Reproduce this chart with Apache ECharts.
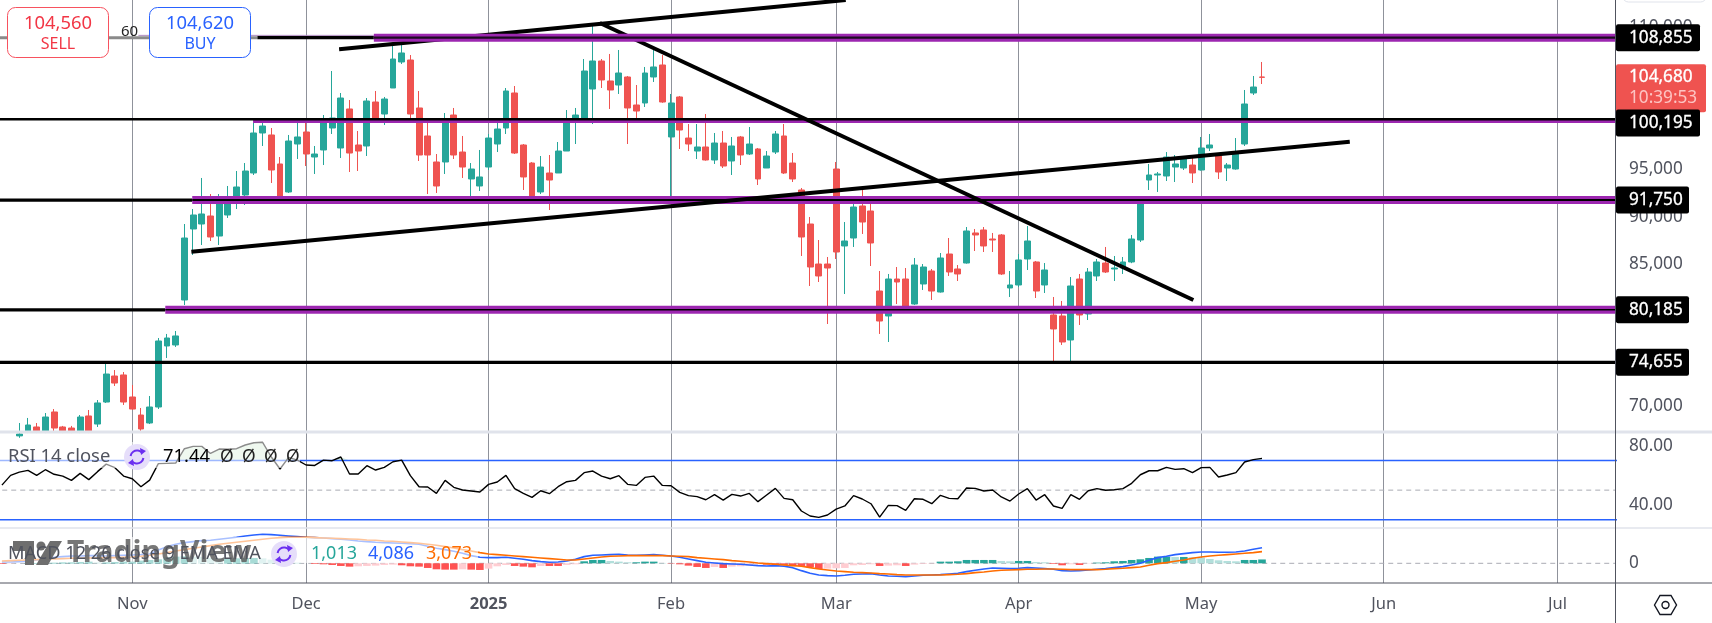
<!DOCTYPE html>
<html>
<head>
<meta charset="utf-8">
<title>Chart</title>
<script src="https://cdn.jsdelivr.net/npm/echarts@6/dist/echarts.min.js"></script>
<style>
  html, body { margin: 0; padding: 0; background: #fff; }
  #chart { width: 1712px; height: 623px; }
</style>
</head>
<body>
<div id="chart"></div>
<script>
const FONT = '"Noto Sans", sans-serif';
const GREEN = '#26a69a', RED = '#ef5350', PURPLE = '#9c27b0', BLUE = '#2962ff', ORANGE = '#ff6d00', GREY = '#50535e';

// month ticks, in bar numbers
const tickBars = [15, 35, 56, 77, 96, 117, 138, 159, 179];
const tickLabels = ['Nov', 'Dec', '2025', 'Feb', 'Mar', 'Apr', 'May', 'Jun', 'Jul'];

// open, close, low, high per bar. first two sit below the visible range
const candleValues = [
  [66200,66500,66000,66700],[66500,66300,66100,66800],
  [66900,67100,66700,68260],[67420,68050,67200,68790],[67840,67420,67200,68260],[67420,68890,67200,69310],
  [69420,67730,67420,69730],[67840,67420,67200,67950],[67730,67420,67200,67950],[67420,68890,67200,69100],
  [69000,67420,67200,69630],[68150,70370,67840,70680],[70470,73420,70370,74580],[73210,72470,72160,73840],
  [73320,70470,70160,73630],[71000,69730,69630,72260],[69100,67630,67420,69840],[68260,69945,68150,71105],
  [69945,76900,69735,77215],[76375,77215,75110,77640],[76480,77430,76270,77955],[81220,87750,80690,89225],
  [88700,90175,85960,90805],[89225,90280,87015,94075],[90070,87855,87435,92385],[87960,91545,87015,92385],
  [90175,91545,89860,93230],[91440,93125,90805,94810],[92280,94810,91230,95650],[94600,98815,94390,99870],
  [98815,99550,97445,99870],[98605,94915,93545,99340],[95550,91755,91545,96285],[92600,97970,92495,98605],
  [97655,98395,96075,99870],[98920,96600,95335,100080],[96285,96600,94495,97445],[97025,100080,95440,100710],
  [99340,100395,98710,105345],[97235,102500,96180,103030],[101345,96705,94705,102290],[97550,96915,94810,99025],
  [97445,102185,96390,102500],[102080,100290,100290,103240],[100815,102395,99660,102610],[103555,106610,103555,107980],
  [106295,107245,106085,108295],[106505,100815,100290,107030],[101450,96495,95865,103240],[98500,96495,92385,100185],
  [95760,93230,92495,96600],[95760,100080,94495,100920],[100710,96495,96075,101450],[96810,95230,94075,98500],
  [93970,95020,92175,95650],[93230,94180,92705,97025],[95230,98285,94915,98710],[97655,99235,96810,99870],
  [99340,103240,98710,103555],[103030,96705,96600,103765],[97550,94180,92810,97655],[95650,92070,91900,95750],
  [92600,95230,92385,96390],[94600,93860,90700,96495],[94600,96915,94600,97865],[96915,100080,96915,101235],
  [100290,100710,97655,101450],[100290,105345,100290,106610],[103450,106400,99760,110195],[106400,104400,103555,106610],
  [104295,103345,101345,107140],[103870,105135,102925,107560],[104715,101450,97655,104820],[101765,101130,100395,103870],
  [101975,105135,101555,105770],[104715,105770,104190,107560],[105980,102080,102000,107030],[98395,101975,92070,102925],
  [102610,99130,97130,102715],[98285,97655,96915,99760],[96915,97340,96075,99760],[97340,95970,95900,100815],
  [95970,97760,95550,98815],[97760,95335,95125,99025],[95865,97445,94390,98395],[98395,96495,95440,98500],
  [96600,97655,96495,99445],[97130,93970,93335,97235],[95125,96390,95125,96915],[96810,98710,96600,99025],
  [98500,94600,94500,99760],[95650,93970,93650,96705],[92810,87855,85855,93020],[89225,84695,82695,89965],
  [85010,83750,83115,87540],[85010,84590,78690,85750],[95020,86275,85540,95760],[86910,87435,81850,89435],
  [87750,91015,86805,91335],[91125,89435,88175,93125],[90595,87225,84800,91335],[82165,79005,77640,84275],
  [79535,83430,76795,83960],[83430,83115,80795,84695],[83430,80480,80300,84590],[80795,84905,80700,85645],
  [82905,84695,82275,85010],[84275,82165,81220,84485],[82060,85645,82000,86170],[86065,84170,83750,87750],
  [84485,83960,83220,84905],[85115,88490,85050,88910],[88280,88070,86380,88700],[88595,86910,86275,88910],
  [87645,87540,86275,88280],[88070,83960,83855,88170],[82485,82800,81535,84275],[82800,85435,82590,86065],
  [85540,87435,84380,89015],[85225,82165,81430,85330],[82800,84380,81955,85115],[79640,78165,74790,81535],
  [79535,76795,76480,81115],[77005,82695,74790,83640],[83430,79640,78585,83960],[79745,84170,79110,84590],
  [83750,85225,83220,85540],[85115,84170,84065,86805],[84485,84590,83220,85855],[84590,85225,83960,85750],
  [85225,87645,85100,88070],[87540,91335,87330,91545],[93860,94390,92810,95550],[94390,94495,92600,94705],
  [94285,96285,93755,96810],[95230,95550,93650,96495],[95125,96180,94915,96280],[95440,94600,93545,96180],
  [94915,97235,94850,98395],[97235,97550,96915,98710],[96390,94705,93970,96450],[95125,95440,93755,95650],
  [95020,96600,94950,98285],[97655,101870,97445,103345],[103030,103660,102820,104820],[104715,104680,103975,106295]
];

const rsiValues = [
  53.4,60.0,62.2,63.4,60.0,63.8,60.7,59.5,56.6,61.3,57.1,62.5,67.6,65.2,59.5,57.7,52.3,56.8,67.9,68.1,
  68.3,78.0,79.6,79.6,74.8,77.8,77.6,78.0,80.5,82.0,82.3,72.4,64.3,72.1,70.3,67.0,66.7,70.3,69.9,72.4,
  60.9,60.9,66.5,63.6,65.4,69.2,70.3,59.8,52.3,52.1,47.8,56.6,51.9,50.1,49.4,48.7,53.9,55.5,60.0,51.0,
  47.8,45.1,49.6,47.6,52.3,55.7,
  56.6,61.8,62.9,59.5,57.7,59.8,53.9,53.2,58.6,59.5,53.2,53.0,48.5,46.3,45.6,43.5,46.9,43.3,47.1,46.0,
  47.8,42.2,46.7,51.2,44.4,43.5,35.9,32.5,31.6,33.2,37.2,39.3,46.3,44.0,40.8,31.8,39.7,39.5,36.3,44.2,
  43.8,40.8,46.5,44.4,44.2,51.4,51.2,49.4,50.1,45.4,42.6,47.4,51.0,43.3,46.9,39.3,37.7,46.9,43.8,49.6,
  51.0,49.9,50.3,51.0,54.6,60.4,
  63.1,63.1,65.4,64.0,64.5,61.8,65.2,65.4,58.9,60.2,61.8,69.0,70.6,71.44
];

const macdValues = [
  352,352,440,528,880,1232,1584,1760,1936,1936,2024,2024,1936,2024,2112,2200,2288,2464,3520,4400,
  5016,5456,5720,5984,6072,6336,6600,6864,7216,7480,7656,7568,7392,7216,7040,6864,6776,6688,6512,6336,
  6160,5896,5720,5544,5456,5368,5280,5192,5016,4488,3960,3608,3168,2640,2024,1584,1496,1496,1584,1320,
  1056,704,440,264,352,616,
  1056,1760,2112,2200,2288,2376,2200,2112,2200,2288,2112,1936,1584,1144,704,264,88,-88,-176,-264,
  -440,-616,-704,-616,-792,-1144,-1936,-2640,-3080,-3256,-3344,-3168,-2904,-2816,-2728,-3080,-3344,-3432,-3520,-3344,
  -3168,-3080,-2992,-2816,-2640,-2200,-1848,-1496,-1232,-1320,-1408,-1320,-1144,-1232,-1408,-1584,-1936,-2024,-1936,-1760,
  -1584,-1408,-1144,-880,-440,0,
  792,1496,1848,2288,2552,2816,2992,2992,2904,2904,2992,3256,3696,4086
];

const signalValues = [
  616,704,792,880,968,1056,1144,1232,1320,1320,1408,1408,1496,1496,1584,1672,1848,2112,2464,2816,
  3256,3608,3960,4312,4664,5016,5280,5544,5808,6072,6336,6600,6776,6864,6864,6864,6776,6688,6600,6512,
  6424,6336,6160,6072,5896,5808,5632,5456,5280,5016,4752,4400,4048,3608,3256,2816,2464,2288,2112,1936,
  1760,1584,1408,1232,1056,880,
  880,1144,1408,1672,1848,1936,2024,2024,2024,2024,2024,1936,1848,1760,1496,1320,1144,968,704,528,
  352,88,-88,-264,-440,-616,-792,-1144,-1496,-1760,-2024,-2200,-2376,-2464,-2552,-2728,-2816,-2992,-3080,-3080,
  -3080,-3080,-3080,-2992,-2904,-2728,-2464,-2288,-2024,-1848,-1760,-1672,-1584,-1584,-1496,-1496,-1584,-1672,-1672,-1672,
  -1672,-1584,-1408,-1320,-1144,-968,
  -528,-88,176,528,880,1320,1672,1936,2112,2288,2464,2640,2816,3073
];

const histValues = [
  -176,-88,0,88,88,176,176,264,264,352,440,264,264,352,440,440,704,880,1056,1584,
  1760,1848,1760,1672,1408,1320,1320,1320,1408,1408,1320,968,616,352,176,0,-176,-264,-440,-704,
  -880,-792,-704,-616,-440,-352,-528,-792,-880,-1232,-1584,-1672,-1672,-1584,-1672,-1760,-1408,-792,-440,-704,
  -880,-1056,-704,-704,-704,-440,
  -264,528,880,880,616,440,264,264,440,440,88,-88,-264,-616,-968,-1232,-968,-1232,-880,-792,
  -616,-264,-352,-440,-528,-616,-704,-1056,-1496,-1408,-1320,-1232,-528,-440,-264,-704,-616,-528,-704,-352,
  -176,-88,440,440,528,880,880,880,880,616,528,616,616,352,264,-176,-528,-264,-440,-88,
  176,264,528,616,880,1056,
  1408,1760,1760,1672,1672,1584,1496,1144,792,616,528,880,880,1013
];

// drawn levels: price, first bar
const purpleLevels = [[108855, 42.8], [100040, 28.9], [91750, 21.9], [80185, 18.8]];
const blackLevels = [[100260, -0.3], [91750, 21.9], [80185, 18.8], [108855, 42.8]];
const blackLeftLevels = [[108855, 29.4, 42.8], [91750, -0.3, 21.9], [80185, -0.3, 18.8], [74655, -0.3, 186]];
const greyLevel = [108855, -0.3, 29.4];
const lilacLevel = [109100, 15.7, 42.8];

// trend lines: two bar/price pairs
const trendUpper = [[38.8, 107633], [97.1, 112827]];
const trendFalling = [[68.8, 110404], [137.1, 81219]];
const trendLower = [[21.8, 86308], [155.1, 97897]];

const rsiBands = [70, 30];
const rsiMid = 50;

const priceTicks = [110000, 105000, 100000, 95000, 90000, 85000, 80000, 75000, 70000];
const rsiTicks = [80, 40];
const macdTicks = [0];

// price tags on the right: label, value, pixel nudge
const tagLabels = ['108,855', '100,195', '91,750', '80,185', '74,655'];
const tagValues = [108855, 100195, 91750, 80185, 74655];
const tagNudge = [0, 3, 0, 0, 0];
const lastPrice = 104680;

const X_MIN = -0.221, X_MAX = 185.62;

const chart = echarts.init(document.getElementById('chart'));

function makeXAxis(gridIndex, showLabel) {
  return {
    type: 'value', gridIndex, min: X_MIN, max: X_MAX,
    axisLine: { show: false },
    axisTick: { show: false, customValues: tickBars },
    splitLine: { show: true, lineStyle: { color: '#8f929b', width: 1 } },
    axisLabel: {
      show: showLabel, customValues: tickBars, margin: 13, hideOverlap: false,
      color: GREY, fontFamily: FONT, fontSize: 16.5,
      formatter: v => {
        const t = tickLabels[tickBars.indexOf(v)];
        return t === '2025' ? '{b|2025}' : t;
      },
      rich: { b: { fontFamily: FONT, fontSize: 16.5, fontWeight: 'bold', color: GREY } }
    }
  };
}

function makeYAxis(gridIndex, min, max, ticks, fmt, gridWhite) {
  return {
    type: 'value', gridIndex, position: 'right', min, max,
    axisLine: { show: false },
    axisTick: { show: false, customValues: ticks },
    splitLine: { show: gridWhite, lineStyle: { color: '#ffffff', width: 1 } },
    axisLabel: { customValues: ticks, margin: 14, color: GREY, fontFamily: FONT, fontSize: 17.2, formatter: fmt, hideOverlap: false }
  };
}

function seg(data, color, width, z, extra) {
  return Object.assign({
    type: 'line', data, showSymbol: false, silent: true, z, animation: false,
    lineStyle: { color, width, cap: 'butt' }
  }, extra || {});
}

const series = [];
series.push({
  type: 'candlestick', xAxisIndex: 0, yAxisIndex: 0, z: 2, barWidth: 6.4, animation: false, clip: true,
  data: candleValues.map((c, i) => [i, c[0], c[1], c[2], c[3]]),
  encode: { x: 0, y: [1, 2, 3, 4] },
  itemStyle: { color: GREEN, color0: RED, borderColor: GREEN, borderColor0: RED, borderWidth: 1 }
});

// grey part behind the buy / sell boxes, then the black and purple levels
series.push(seg([[greyLevel[1], greyLevel[0]], [greyLevel[2], greyLevel[0]]], '#8a8a8a', 3, 3));
series.push(seg([[lilacLevel[1], lilacLevel[0]], [lilacLevel[2], lilacLevel[0]]], '#b08cc0', 1, 3));
blackLeftLevels.forEach(l => series.push(seg([[l[1], l[0]], [l[2], l[0]]], '#000', 3.2, 4)));
series.push(seg(trendUpper, '#000', 4, 5));
series.push(seg(trendFalling, '#000', 4, 5));
series.push(seg(trendLower, '#000', 4, 5));
purpleLevels.forEach((l, i) => series.push(seg([[l[1], l[0]], [186, l[0]]], PURPLE, i === 1 ? 3.5 : 8, i === 0 ? 6 : 4)));
series.push(seg([[blackLevels[0][1], blackLevels[0][0]], [186, blackLevels[0][0]]], '#000', 2.5, 7));
series.push(seg([[blackLevels[1][1], blackLevels[1][0]], [186, blackLevels[1][0]]], '#000', 2, 7));
series.push(seg([[blackLevels[2][1], blackLevels[2][0]], [186, blackLevels[2][0]]], '#000', 1.5, 7));
series.push(seg([[blackLevels[3][1], blackLevels[3][0]], [186, blackLevels[3][0]]], '#1c0b20', 2.3, 7));

// rsi pane
const rsiX = (v, i) => [i, v];
const r1 = { xAxisIndex: 1, yAxisIndex: 1 };
// green fill where rsi runs above the upper band
series.push({
  type: 'custom', xAxisIndex: 1, yAxisIndex: 1, z: 1, silent: true, animation: false, clip: true,
  data: rsiValues.slice(0, -1).map(rsiX),
  encode: { x: 0, y: 1 },
  renderItem: (params, api) => {
    const i = api.value(0), band = rsiBands[0];
    const a = Math.max(rsiValues[i], band), b = Math.max(rsiValues[i + 1], band);
    if (a === band && b === band) return null;
    return {
      type: 'polygon',
      shape: { points: [api.coord([i, band]), api.coord([i, a]), api.coord([i + 1, b]), api.coord([i + 1, band])] },
      style: { fill: 'rgba(76,175,80,0.2)' }
    };
  }
});
rsiBands.forEach(b => series.push(seg([[-1, b], [186, b]], BLUE, 1.5, 2, r1)));
series.push(Object.assign(seg([[-1, rsiMid], [186, rsiMid]], '#a9abb3', 1, 2, r1),
  { lineStyle: { color: '#a9abb3', width: 1, type: [5, 4] } }));
series.push(seg(rsiValues.map(rsiX), '#000', 1.4, 3, r1));

// macd pane
const m2 = { xAxisIndex: 2, yAxisIndex: 2 };
series.push({
  type: 'bar', xAxisIndex: 2, yAxisIndex: 2, barWidth: 7.6, z: 2, animation: false, silent: true,
  data: histValues.map((v, i) => {
    const prev = i ? histValues[i - 1] : 0;
    const color = v >= 0 ? (v >= prev ? GREEN : '#b2dfdb') : (v <= prev ? '#ff5252' : '#ffcdd2');
    return { value: [i, v], itemStyle: { color } };
  })
});
series.push(Object.assign(seg([[-1, 0], [186, 0]], '#a9abb3', 1, 1, m2),
  { lineStyle: { color: '#a9abb3', width: 1, type: [5, 4] } }));
series.push(seg(macdValues.map(rsiX), BLUE, 1.6, 3, m2));
series.push(seg(signalValues.map(rsiX), ORANGE, 1.6, 4, m2));

chart.setOption({
  animation: false,
  backgroundColor: '#ffffff',
  textStyle: { fontFamily: FONT },
  grid: [
    { left: 0, top: 0, width: 1615, height: 432 },
    { left: 0, top: 432, width: 1615, height: 96 },
    { left: 0, top: 528, width: 1615, height: 55 }
  ],
  xAxis: [makeXAxis(0, false), makeXAxis(1, false), makeXAxis(2, true)],
  yAxis: [
    makeYAxis(0, 67311, 112827, priceTicks, v => v.toLocaleString('en-US'), true),
    makeYAxis(1, 24.4, 89.3, rsiTicks, v => v.toFixed(2), false),
    makeYAxis(2, -5201, 9319, macdTicks, v => String(v), false)
  ],
  series
});

// overlays that sit on top of the panes: panes chrome, legends, tags
const g = [];
const txt = (x, y, text, fill, size, o) => g.push({
  type: 'text', z: 60, silent: true, x, y,
  style: Object.assign({ text, fill, font: (o && o.weight ? o.weight + ' ' : '') + size + 'px ' + FONT, textVerticalAlign: 'middle', textAlign: 'left' }, o && o.style)
});
const rect = (x, y, w, h, style, r, z) => g.push({ type: 'rect', z: z || 50, silent: true, shape: { x, y, width: w, height: h, r: r || 0 }, style });
const hline = (x1, y1, x2, y2, stroke, lineWidth) => g.push({ type: 'line', z: 55, silent: true, shape: { x1, y1, x2, y2 }, style: { stroke, lineWidth } });

function refreshIcon(cx, cy) {
  g.push({ type: 'circle', z: 58, silent: true, shape: { cx, cy, r: 13 }, style: { fill: '#e6defa' } });
  g.push({ type: 'arc', z: 59, silent: true, shape: { cx, cy, r: 6.5, startAngle: Math.PI * 1.05, endAngle: Math.PI * 1.75 }, style: { stroke: '#6b2ff0', lineWidth: 2, fill: 'none' } });
  g.push({ type: 'arc', z: 59, silent: true, shape: { cx, cy, r: 6.5, startAngle: Math.PI * 0.05, endAngle: Math.PI * 0.75 }, style: { stroke: '#6b2ff0', lineWidth: 2, fill: 'none' } });
  g.push({ type: 'polygon', z: 59, silent: true, shape: { points: [[cx + 3, cy - 9], [cx + 9, cy - 6], [cx + 4, cy - 2]] }, style: { fill: '#6b2ff0' } });
  g.push({ type: 'polygon', z: 59, silent: true, shape: { points: [[cx - 3, cy + 9], [cx - 9, cy + 6], [cx - 4, cy + 2]] }, style: { fill: '#6b2ff0' } });
}

// separators and axis lines
hline(0, 432, 1712, 432, '#e0e3eb', 3);
hline(0, 528, 1712, 528, '#e0e3eb', 1.5);
hline(0, 583, 1712, 583, GREY, 1);
hline(1615.5, 0, 1615.5, 623, GREY, 1);

// buy / sell
rect(7.5, 7.5, 101, 50, { fill: '#fff', stroke: '#f7525f', lineWidth: 1 }, 8);
rect(149.5, 7.5, 101, 50, { fill: '#fff', stroke: BLUE, lineWidth: 1 }, 8);
txt(58, 24, '104,560', '#f23645', 18.4, { style: { textAlign: 'center' } });
txt(58, 44, 'SELL', '#f23645', 16, { style: { textAlign: 'center' } });
txt(200, 24, '104,620', BLUE, 18.4, { style: { textAlign: 'center' } });
txt(200, 44, 'BUY', BLUE, 16, { style: { textAlign: 'center' } });
txt(121, 32, '60', '#222', 15);

// rsi legend
rect(0, 442, 300, 26, { fill: 'rgba(255,255,255,0.55)' }, 0, 40);
txt(8, 457, 'RSI 14 close', GREY, 18.4);
refreshIcon(137, 457);
txt(163, 457, '71.44', '#000', 18.4);
['Ø', 'Ø', 'Ø', 'Ø'].forEach((s, i) => txt(220 + i * 22, 457, s, '#222', 17.5));

// watermark and macd legend
rect(0, 537, 478, 26, { fill: 'rgba(255,255,255,0.6)' }, 0, 40);
g.push({ type: 'polygon', z: 45, silent: true, shape: { points: [[13, 541], [34, 541], [34, 565], [25, 565], [25, 551], [13, 551]] }, style: { fill: '#6e6e6e' } });
g.push({ type: 'circle', z: 45, silent: true, shape: { cx: 41, cy: 546, r: 4.5 }, style: { fill: '#6e6e6e' } });
g.push({ type: 'polygon', z: 45, silent: true, shape: { points: [[50, 541], [62, 541], [48, 565], [36, 565]] }, style: { fill: '#6e6e6e' } });
txt(67, 553, 'TradingView', 'rgba(95,95,95,0.85)', 30, { weight: 'bold' });
txt(8, 554, 'MACD 12 26 close 9 EMA EMA', GREY, 18.2);
refreshIcon(284, 554);
txt(311, 554, '1,013', GREEN, 18);
txt(368, 554, '4,086', BLUE, 18);
txt(426, 554, '3,073', ORANGE, 18);

// right side bits
rect(1622.5, -12, 84, 14, { fill: '#fff', stroke: '#e0e3eb', lineWidth: 1 }, 6);
g.push({ type: 'polygon', z: 55, silent: true, shape: { points: [[1654.5, 605], [1660, 595.5], [1671, 595.5], [1676.5, 605], [1671, 614.5], [1660, 614.5]] }, style: { fill: 'none', stroke: '#131722', lineWidth: 1.4 } });
g.push({ type: 'circle', z: 55, silent: true, shape: { cx: 1665.5, cy: 605, r: 3.5 }, style: { fill: 'none', stroke: '#131722', lineWidth: 1.4 } });

// last price tag, then the level tags
const lastY = chart.convertToPixel({ yAxisIndex: 0 }, lastPrice);
rect(1616, lastY - 13, 90, 48, { fill: RED }, 2);
txt(1629, lastY, lastPrice.toLocaleString('en-US'), '#fff', 17.2, { style: { stroke: '#fff', lineWidth: 0.3 } });
txt(1629, lastY + 20.5, '10:39:53', '#fdc4c2', 17.2);
tagLabels.forEach((label, i) => {
  const y = chart.convertToPixel({ yAxisIndex: 0 }, tagValues[i]) + tagNudge[i];
  const w = label.length > 6 ? 84 : 73;
  rect(1616, y - 13.5, w, 27, { fill: '#000' }, 2, 52);
  txt(1629, y, label, '#fff', 17.2, { style: { stroke: '#fff', lineWidth: 0.3 } });
});

chart.setOption({ graphic: { elements: g } });
window.addEventListener('resize', chart.resize);
</script>
</body>
</html>
